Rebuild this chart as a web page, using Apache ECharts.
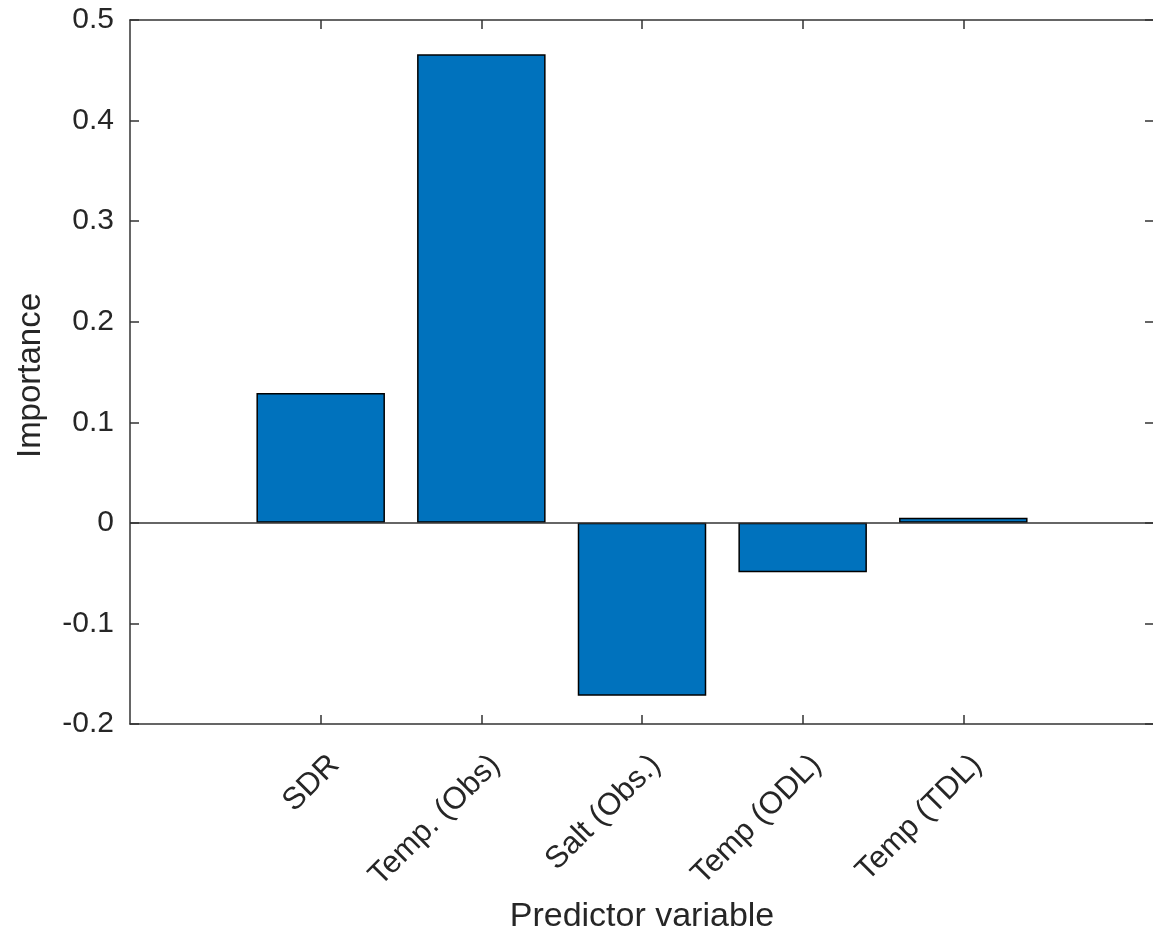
<!DOCTYPE html>
<html><head><meta charset="utf-8">
<script src="https://cdn.jsdelivr.net/npm/echarts@6/dist/echarts.min.js"></script>
<style>html,body{margin:0;padding:0;background:#fff}#c{width:1153px;height:936px}</style>
</head><body><div id="c"></div>
<script>
const categories = ['SDR', 'Temp. (Obs)', 'Salt (Obs.)', 'Temp (ODL)', 'Temp (TDL)'];
const importance = [0.129, 0.466, -0.172, -0.049, 0.005];
const yMin = -0.2, yMax = 0.5, yStep = 0.1;
const xLabel = 'Predictor variable';
const yLabel = 'Importance';

const positions = categories.map((_, i) => i + 1);
const seriesData = positions.map((p, i) => [p, importance[i]]);

const FONT = "'Liberation Sans', Arial, Helvetica, sans-serif";
const AX = '#333333';
const axisLineStyle = { show: true, onZero: false, lineStyle: { color: AX, width: 1.5 } };
const tickStyle = { show: true, inside: true, length: 9, lineStyle: { color: AX, width: 1.5 } };

const chart = echarts.init(document.getElementById('c'), null, { renderer: 'canvas' });
chart.setOption({
  backgroundColor: '#fff',
  animation: false,
  grid: { left: 130, top: 20, width: 1024, height: 704, containLabel: false, outerBoundsMode: 'none' },
  xAxis: [{
    type: 'value', position: 'bottom', min: -0.187, max: 6.187,
    axisLine: axisLineStyle,
    axisTick: Object.assign({}, tickStyle, { customValues: positions }),
    axisLabel: {
      customValues: positions,
      formatter: v => categories[Math.round(v) - 1] || '',
      rotate: 45, align: 'right', verticalAlign: 'top', margin: 28,
      padding: [0, -4, 0, 0],
      fontFamily: FONT, fontSize: 31, color: '#262626'
    },
    splitLine: { show: false },
    name: xLabel, nameLocation: 'middle', nameGap: 176,
    nameTextStyle: { fontFamily: FONT, fontSize: 34, color: '#262626' }
  }, {
    type: 'value', position: 'top', min: -0.187, max: 6.187,
    axisLine: axisLineStyle,
    axisTick: Object.assign({}, tickStyle, { customValues: positions }),
    axisLabel: { show: false },
    splitLine: { show: false }
  }],
  yAxis: [{
    type: 'value', position: 'left', min: yMin, max: yMax, interval: yStep,
    axisLine: axisLineStyle, axisTick: tickStyle,
    axisLabel: {
      formatter: v => String(+v.toFixed(1)),
      margin: 16, padding: [5, 0, 0, 0],
      fontFamily: FONT, fontSize: 30, color: '#262626'
    },
    splitLine: { show: false },
    name: yLabel, nameLocation: 'middle', nameGap: 83,
    nameTextStyle: { fontFamily: FONT, fontSize: 33, color: '#262626', padding: [0, 7, 0, 0] }
  }, {
    type: 'value', position: 'right', min: yMin, max: yMax, interval: yStep,
    axisLine: axisLineStyle, axisTick: tickStyle,
    axisLabel: { show: false }, splitLine: { show: false }
  }],
  series: [{
    type: 'bar', xAxisIndex: 0, yAxisIndex: 0,
    data: seriesData,
    barWidth: 128.5,
    itemStyle: { color: '#0072BD', borderColor: '#000', borderWidth: 1.5 },
    markLine: {
      silent: true, symbol: 'none', label: { show: false },
      lineStyle: { color: AX, width: 1.5, type: 'solid' },
      data: [{ yAxis: 0 }]
    }
  }]
});
</script></body></html>
